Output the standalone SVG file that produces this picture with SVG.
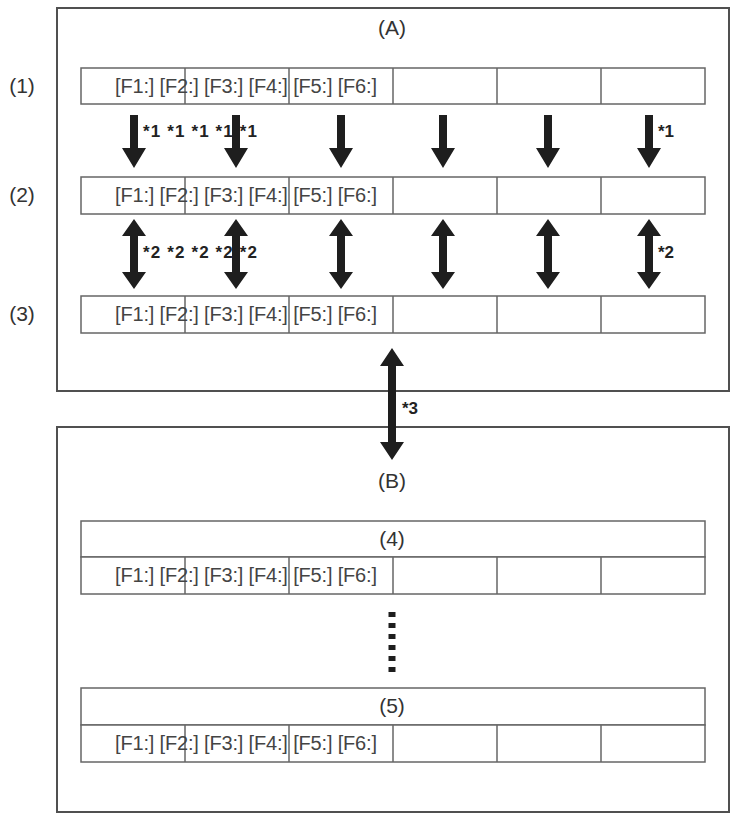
<svg xmlns="http://www.w3.org/2000/svg" width="735" height="814" viewBox="0 0 735 814">
<style>
.frame{fill:#fff;stroke:#505050;stroke-width:2}
.cell{fill:#fff;stroke:#666;stroke-width:1.5}
.div{stroke:#666;stroke-width:1.5}
.lbl{font-family:"Liberation Sans",Arial,sans-serif;font-size:21px;fill:#333;text-anchor:middle}
.ft{font-family:"Liberation Sans",Arial,sans-serif;font-size:20px;fill:#444}
.note{font-family:"Liberation Sans",Arial,sans-serif;font-size:17px;font-weight:bold;fill:#222}
.arr{fill:#1e1e1e}
</style>
<defs>
<path id="down" class="arr" d="M-4,0 H4 V33 H12 L0,53 L-12,33 H-4 Z"/>
<path id="dbl" class="arr" d="M0,0 L12,17 H4 V53 H12 L0,70 L-12,53 H-4 V17 H-12 Z"/>
<g id="cells">
<line class="div" x1="185" y1="0" x2="185" y2="37"/>
<line class="div" x1="289" y1="0" x2="289" y2="37"/>
<line class="div" x1="393" y1="0" x2="393" y2="37"/>
<line class="div" x1="497" y1="0" x2="497" y2="37"/>
<line class="div" x1="601" y1="0" x2="601" y2="37"/>
</g>
</defs>

<g id="boxA">
<rect class="frame" x="57" y="8" width="672" height="383"/>
<text class="lbl" x="392" y="35">(A)</text>
</g>

<g id="boxB">
<rect class="frame" x="57" y="427" width="672" height="385"/>
<text class="lbl" x="392" y="488">(B)</text>
</g>

<g id="labels">
<text class="lbl" x="22" y="93">(1)</text>
<text class="lbl" x="22" y="202">(2)</text>
<text class="lbl" x="22" y="321">(3)</text>
</g>

<g id="row1">
<rect class="cell" x="81" y="68" width="624" height="36"/>
<use href="#cells" transform="translate(0,68) scale(1,0.973)"/>
<text class="ft" x="115" y="93" textLength="262">[F1:] [F2:] [F3:] [F4:] [F5:] [F6:]</text>
</g>

<g id="row2">
<rect class="cell" x="81" y="177" width="624" height="37"/>
<use href="#cells" transform="translate(0,177)"/>
<text class="ft" x="115" y="202" textLength="262">[F1:] [F2:] [F3:] [F4:] [F5:] [F6:]</text>
</g>

<g id="row3">
<rect class="cell" x="81" y="296" width="624" height="37"/>
<use href="#cells" transform="translate(0,296)"/>
<text class="ft" x="115" y="321" textLength="262">[F1:] [F2:] [F3:] [F4:] [F5:] [F6:]</text>
</g>

<g id="row4">
<rect class="cell" x="81" y="521" width="624" height="36"/>
<text class="lbl" x="392" y="546">(4)</text>
<rect class="cell" x="81" y="557" width="624" height="37"/>
<use href="#cells" transform="translate(0,557)"/>
<text class="ft" x="115" y="582" textLength="262">[F1:] [F2:] [F3:] [F4:] [F5:] [F6:]</text>
</g>

<g id="row5">
<rect class="cell" x="81" y="688" width="624" height="37"/>
<text class="lbl" x="392" y="713">(5)</text>
<rect class="cell" x="81" y="725" width="624" height="37"/>
<use href="#cells" transform="translate(0,725)"/>
<text class="ft" x="115" y="750" textLength="262">[F1:] [F2:] [F3:] [F4:] [F5:] [F6:]</text>
</g>

<g id="connectors">
<use href="#down" x="134" y="115"/>
<use href="#down" x="236" y="115"/>
<use href="#down" x="341" y="115"/>
<use href="#down" x="443" y="115"/>
<use href="#down" x="548" y="115"/>
<use href="#down" x="649" y="115"/>
<text class="note" x="143" y="137" textLength="114">*1 *1 *1 *1 *1</text>
<text class="note" x="658" y="137">*1</text>

<use href="#dbl" x="134" y="219"/>
<use href="#dbl" x="236" y="219"/>
<use href="#dbl" x="341" y="219"/>
<use href="#dbl" x="443" y="219"/>
<use href="#dbl" x="548" y="219"/>
<use href="#dbl" x="649" y="219"/>
<text class="note" x="143" y="258" textLength="114">*2 *2 *2 *2 *2</text>
<text class="note" x="658" y="258">*2</text>

<path class="arr" d="M392,348 L404,366 H396 V442 H404 L392,460 L380,442 H388 V366 H380 Z"/>
<text class="note" x="402" y="414">*3</text>

<line x1="392" y1="612" x2="392" y2="673" stroke="#1e1e1e" stroke-width="7" stroke-dasharray="5 6"/>
</g>
</svg>
